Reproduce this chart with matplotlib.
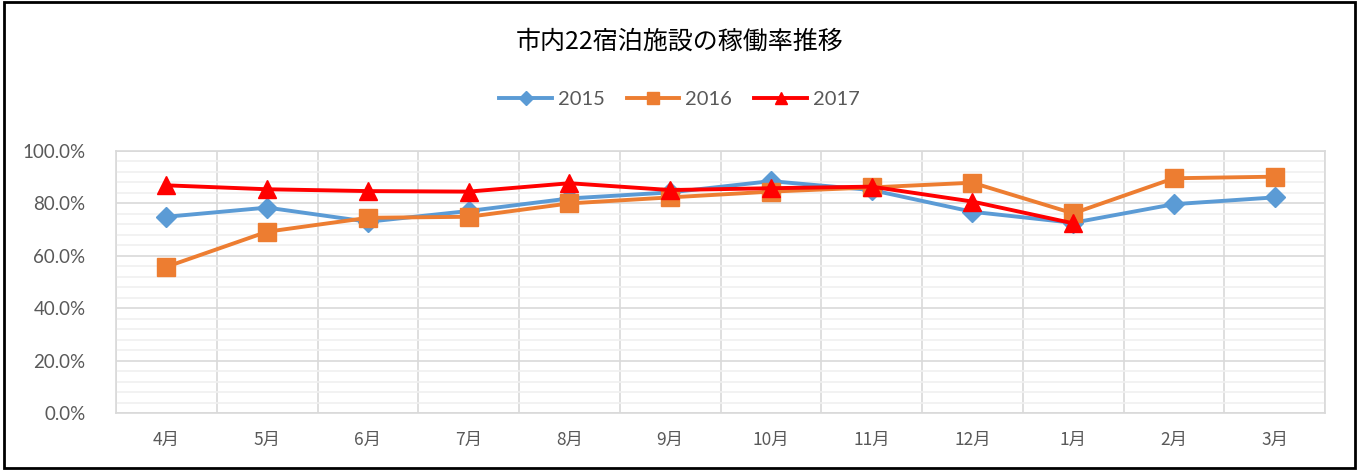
import matplotlib as mpl
import matplotlib.pyplot as plt
from matplotlib.patches import Rectangle
from matplotlib.ticker import MultipleLocator, PercentFormatter

# data (occupancy %)
months = ['4月', '5月', '6月', '7月', '8月', '9月', '10月', '11月', '12月', '1月', '2月', '3月']
rate_2015 = [74.9, 78.4, 73.0, 77.1, 81.9, 84.2, 88.5, 85.1, 76.8, 72.6, 79.7, 82.3]
rate_2016 = [55.8, 69.2, 74.5, 74.9, 80.0, 82.3, 84.5, 86.1, 87.9, 76.2, 89.6, 90.2]
rate_2017 = [86.9, 85.4, 84.7, 84.5, 87.7, 85.1, 85.8, 86.4, 80.7, 72.4]

plt.rcParams['font.family'] = ['Noto Sans CJK JP', 'DejaVu Sans']
mpl.rcParams['lines.linewidth'] = 2.8

fig = plt.figure(figsize=(13.59, 4.70), dpi=100)
ax = fig.add_axes([0.0854, 0.1213, 0.8896, 0.5574])

x = list(range(len(months)))
ax.plot(x, rate_2015, color='#5b9bd5', marker='D', markersize=10.5, label='2015', zorder=3)
ax.plot(x, rate_2016, color='#ed7d31', marker='s', markersize=13, label='2016', zorder=4)
ax.plot(x[:len(rate_2017)], rate_2017, color='#ff0000', marker='^', markersize=13, label='2017', zorder=5)

ax.set_xlim(-0.5, len(months) - 0.5)
ax.set_ylim(0, 100)
ax.set_xticks(x)
ax.set_xticklabels(months)
ax.xaxis.set_minor_locator(MultipleLocator(1, offset=0.5))
ax.yaxis.set_major_locator(MultipleLocator(20))
ax.yaxis.set_minor_locator(MultipleLocator(4))
ax.yaxis.set_major_formatter(PercentFormatter(decimals=1))

# excel-ish gridlines
ax.grid(which='major', axis='y', color='#d9d9d9', lw=1.2)
ax.grid(which='minor', axis='y', color='#f0f0f0', lw=1.2)
ax.grid(which='minor', axis='x', color='#d9d9d9', lw=1.2)
ax.set_axisbelow(True)
for s in ax.spines.values():
    s.set_color('#d9d9d9')
    s.set_linewidth(1.2)

ax.tick_params(which='both', length=0)
ax.tick_params(axis='y', labelsize=13.5, labelcolor='#595959', pad=22)
ax.tick_params(axis='x', labelsize=12.5, labelcolor='#595959', pad=13)
for lbl in ax.get_yticklabels():
    lbl.set_fontfamily(['Lato', 'DejaVu Sans'])

fig.text(0.5, 0.911, '市内22宿泊施設の稼働率推移', ha='center', va='center',
         fontsize=18, color='black')

ax.legend(loc='center', bbox_to_anchor=(0.5, 0.789), bbox_transform=fig.transFigure,
          ncol=3, frameon=False, handlelength=2.6, columnspacing=1.1, handletextpad=0.3,
          prop={'family': ['Lato', 'DejaVu Sans'], 'size': 14.5}, labelcolor='#595959',
          markerscale=0.7)

# black frame around whole chart
fig.patches.append(Rectangle((0.003, 0.004), 0.994, 0.992, transform=fig.transFigure,
                             fill=False, edgecolor='black', lw=2))

plt.savefig('out.png', dpi=100)
